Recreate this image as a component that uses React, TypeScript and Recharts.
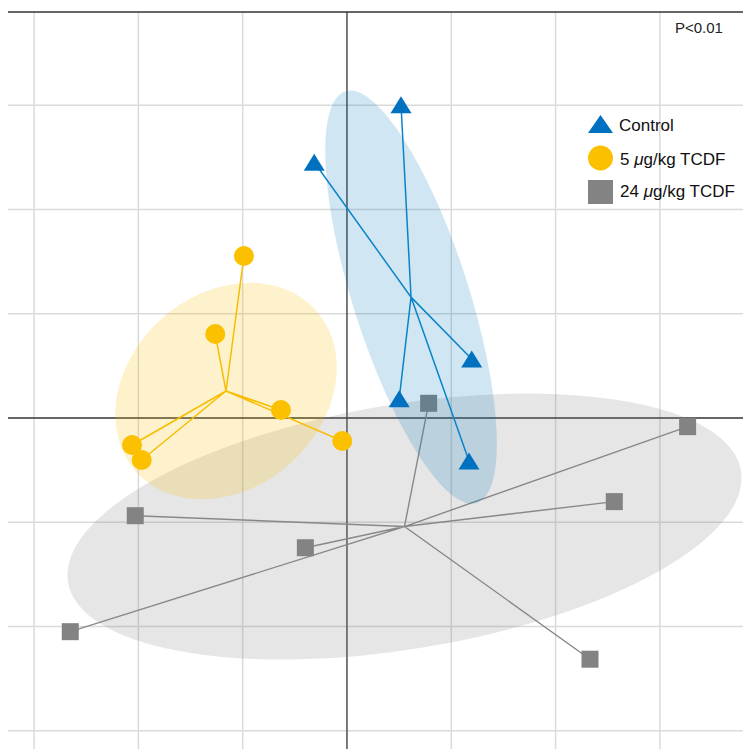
import React from "react";
import { ScatterChart, Scatter, XAxis, YAxis, CartesianGrid } from "recharts";

// chart frame
const W = 743;
const H = 749;
const MARGIN = { top: 12, right: 0, bottom: 0, left: 8 };
const X_MIN = -0.325;
const X_MAX = 0.3797;
const Y_MIN = -0.3174;
const Y_MAX = 0.3893;
const PX_PER_UNIT = (W - MARGIN.left - MARGIN.right) / (X_MAX - X_MIN);

const gridValues = [-0.3, -0.2, -0.1, 0.1, 0.2, 0.3];

// Control
const controlX = [0.0518, -0.0314, 0.1196, 0.0501, 0.117];
const controlY = [0.3004, 0.2452, 0.0566, 0.0185, -0.0412];
// 5 µg/kg TCDF
const lowX = [-0.0988, -0.1263, -0.0633, -0.0045, -0.2061, -0.1968];
const lowY = [0.1553, 0.0805, 0.0077, -0.0221, -0.0259, -0.0403];
// 24 µg/kg TCDF
const highX = [0.0783, 0.3266, 0.2563, -0.203, -0.0399, -0.2653, 0.233];
const highY = [0.0141, -0.0083, -0.0802, -0.0937, -0.1244, -0.2049, -0.2313];

// ellipses: semi-major, semi-minor, angle of major axis (deg, from x axis)
const controlEllipse = [0.2071, 0.0556, 107.7];
const lowEllipse = [0.1159, 0.0929, 42];
const highEllipse = [0.327, 0.1174, 9.4];

const toPoints = (xs: number[], ys: number[]) => xs.map((x, i) => ({ x, y: ys[i] }));
const mean = (v: number[]) => v.reduce((s, n) => s + n, 0) / v.length;
const centroid = (xs: number[], ys: number[]) => ({ x: mean(xs), y: mean(ys) });
// centroid -> p1 -> centroid -> p2 ... gives the spider lines
const spokes = (xs: number[], ys: number[]) => {
    const c = centroid(xs, ys);
    return toPoints(xs, ys).flatMap(p => [c, p]);
};

const ellipseShape = (e: number[], fill: string) => (props: any) => {
    const { cx, cy } = props;
    return (
        <ellipse
            cx={cx}
            cy={cy}
            rx={e[0] * PX_PER_UNIT}
            ry={e[1] * PX_PER_UNIT}
            transform={`rotate(${-e[2]} ${cx} ${cy})`}
            fill={fill}
        />
    );
};

const triangle = (props: any) => {
    const { cx, cy } = props;
    return <polygon points={`${cx},${cy - 8.5} ${cx + 10.5},${cy + 8.5} ${cx - 10.5},${cy + 8.5}`} fill="#0070c0" />;
};
const circle = (props: any) => <circle cx={props.cx} cy={props.cy} r={10} fill="#fbc000" />;
const square = (props: any) => <rect x={props.cx - 8.5} y={props.cy - 8.5} width={17} height={17} fill="#838383" />;
const nothing = () => <g />;

const FONT = '"Liberation Sans", Arial, Helvetica, sans-serif';

export default function App() {
    return (
        <div style={{ position: "absolute", left: 0, top: 0, width: W, height: H, overflow: "hidden", background: "#fff" }}>
            <ScatterChart width={W} height={H} margin={MARGIN}>
                <XAxis type="number" dataKey="x" domain={[X_MIN, X_MAX]} hide allowDataOverflow />
                <YAxis type="number" dataKey="y" domain={[Y_MIN, Y_MAX]} hide allowDataOverflow />
                <CartesianGrid
                    verticalValues={gridValues}
                    horizontalValues={gridValues}
                    stroke="#dadada"
                    strokeWidth={1.5}
                />
                <CartesianGrid
                    verticalValues={[X_MIN, 0]}
                    horizontalValues={[Y_MAX, 0]}
                    stroke="#333333"
                    strokeWidth={1.3}
                />

                <Scatter data={[centroid(highX, highY)]} shape={ellipseShape(highEllipse, "rgba(128,128,128,0.2)")} isAnimationActive={false} />
                <Scatter data={spokes(highX, highY)} line={{ stroke: "#888888", strokeWidth: 1.4 }} shape={nothing} isAnimationActive={false} />
                <Scatter data={toPoints(highX, highY)} shape={square} isAnimationActive={false} />

                <Scatter data={[centroid(lowX, lowY)]} shape={ellipseShape(lowEllipse, "rgba(251,192,0,0.2)")} isAnimationActive={false} />
                <Scatter data={spokes(lowX, lowY)} line={{ stroke: "#f7bd00", strokeWidth: 1.5 }} shape={nothing} isAnimationActive={false} />
                <Scatter data={toPoints(lowX, lowY)} shape={circle} isAnimationActive={false} />

                <Scatter data={[centroid(controlX, controlY)]} shape={ellipseShape(controlEllipse, "rgba(0,114,188,0.18)")} isAnimationActive={false} />
                <Scatter data={spokes(controlX, controlY)} line={{ stroke: "#0a84c8", strokeWidth: 1.5 }} shape={nothing} isAnimationActive={false} />
                <Scatter data={toPoints(controlX, controlY)} shape={triangle} isAnimationActive={false} />
            </ScatterChart>

            {/* legend and p-value */}
            <svg width={W} height={H} style={{ position: "absolute", left: 0, top: 0, pointerEvents: "none" }}>
                <text x={675} y={33} fontFamily={FONT} fontSize={15} fill="#222">P&lt;0.01</text>

                <polygon points="600.5,115 613,133 588,133" fill="#0070c0" />
                <text x={619} y={131} fontFamily={FONT} fontSize={17} fill="#111">Control</text>

                <circle cx={600.5} cy={158} r={12.5} fill="#fbc000" />
                <text x={620} y={164.5} fontFamily={FONT} fontSize={17} fill="#111">
                    5 <tspan fontStyle="italic">μ</tspan>g/kg TCDF
                </text>

                <rect x={588} y={180} width={25} height={24} fill="#838383" />
                <text x={620} y={196.5} fontFamily={FONT} fontSize={17} fill="#111">
                    24 <tspan fontStyle="italic">μ</tspan>g/kg TCDF
                </text>
            </svg>
        </div>
    );
}
